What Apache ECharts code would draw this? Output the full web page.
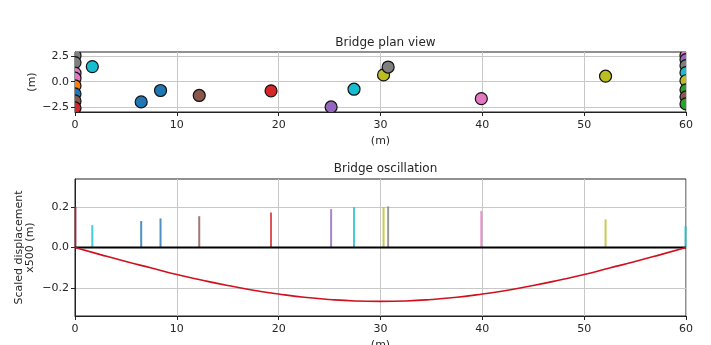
<!DOCTYPE html>
<html><head><meta charset="utf-8">
<script src="https://cdn.jsdelivr.net/npm/echarts@6/dist/echarts.min.js"></script>
<style>html,body{margin:0;padding:0;background:#fff}#c{width:711px;height:345px}</style>
</head><body><div id="c"></div>
<script>
// ---- data ----
var xTicks = [0, 10, 20, 30, 40, 50, 60];
var planYTicks = [-2.5, 0, 2.5];
var oscYTicks = [-0.2, 0, 0.2];
// interior sensors / vehicles: position along span, lateral offset, colour
var ptX = [1.7, 6.5, 8.4, 12.2, 19.25, 25.15, 27.4, 30.3, 30.75, 39.9, 52.1];
var ptY = [1.5, -2.0, -0.87, -1.36, -0.9, -2.5, -0.74, 0.68, 1.46, -1.68, 0.55];
var ptColor = ['#17becf', '#1f77b4', '#1f77b4', '#8c564b', '#d62728', '#9467bd', '#17becf', '#bcbd22', '#7f7f7f', '#e377c2', '#bcbd22'];
// points parked at the supports
var leftY = [2.6, 1.9, 0.85, 0.35, -0.4, -1.2, -1.9, -2.6];
var leftColor = ['#7f7f7f', '#7f7f7f', '#e377c2', '#e377c2', '#ff7f0e', '#1f77b4', '#8c564b', '#d62728'];
var rightY = [2.6, 2.2, 1.6, 0.9, 0.1, -0.8, -1.5, -2.2];
var rightColor = ['#e377c2', '#9467bd', '#7f7f7f', '#17becf', '#bcbd22', '#2ca02c', '#8c564b', '#2ca02c'];
// oscillation stems
var stemX = [0, 1.7, 6.5, 8.4, 12.2, 19.25, 25.15, 27.4, 30.3, 30.75, 39.9, 52.1, 60];
var stemH = [0.2, 0.11, 0.13, 0.143, 0.154, 0.172, 0.189, 0.198, 0.198, 0.202, 0.18, 0.138, 0.105];
var stemColor = ['#a03040', '#17becf', '#1f77b4', '#1f77b4', '#8c564b', '#d62728', '#9467bd', '#17becf', '#bcbd22', '#7f7f7f', '#e377c2', '#bcbd22', '#17becf'];
// deflection curve
var defX = [0, 2.5, 5, 7.5, 10, 12.5, 15, 17.5, 20, 22.5, 25, 27.5, 30, 32.5, 35, 37.5, 40, 42.5, 45, 47.5, 50, 52.5, 55, 57.5, 60];
var defY = [0, -0.035, -0.069, -0.101, -0.133, -0.161, -0.187, -0.21, -0.229, -0.245, -0.256, -0.263, -0.265, -0.263, -0.256, -0.245, -0.229, -0.21, -0.187, -0.161, -0.133, -0.101, -0.069, -0.035, 0];

// ---- chart ----
var font = 'DejaVu Sans';
var txt = '#262626';
var chart = echarts.init(document.getElementById('c'));

var pts = [];
for (var i = 0; i < leftY.length; i++) pts.push([0, leftY[i], leftColor[i]]);
for (var j = 0; j < rightY.length; j++) pts.push([60, rightY[j], rightColor[j]]);
for (var k = 0; k < ptX.length; k++) pts.push([ptX[k], ptY[k], ptColor[k]]);
var ptCols = pts.map(function (p) { return p[2]; });
var ptData = pts.map(function (p, idx) { return [p[0], p[1], idx]; });

var stems = stemX.map(function (x, i) { return [x, stemH[i], i]; });
var defl = defX.map(function (x, i) { return [x, defY[i]]; });

function xAxis(gi, margin, gap) {
  return {
    type: 'value', gridIndex: gi, min: 0, max: 60, interval: 10,
    name: '(m)', nameLocation: 'middle', nameGap: gap, nameMoveOverlap: false,
    nameTextStyle: {fontFamily: font, fontSize: 11, color: txt},
    axisLine: {show: true, onZero: false, lineStyle: {color: '#222', width: 1}},
    axisTick: {show: true, length: 4, lineStyle: {color: '#222'}},
    axisLabel: {fontFamily: font, fontSize: 11, color: txt, margin: margin},
    splitLine: {show: true, lineStyle: {color: '#c8c8c8', width: 1}}
  };
}
function yAxis(gi, min, max, ticks, name, gap) {
  return {
    type: 'value', gridIndex: gi, min: min, max: max,
    name: name, nameLocation: 'middle', nameGap: gap, nameRotate: 90, nameMoveOverlap: false,
    nameTextStyle: {fontFamily: font, fontSize: 11, color: txt, lineHeight: 11,
      verticalAlign: 'middle', align: 'center'},
    axisLine: {show: true, lineStyle: {color: '#222', width: 1}},
    axisTick: {show: true, length: 4, customValues: ticks, lineStyle: {color: '#222'}},
    axisLabel: {fontFamily: font, fontSize: 11, color: txt, margin: 6, customValues: ticks,
      formatter: function (v) { var s = v.toFixed(1); return s.replace('-', '\u2212'); }},
    splitLine: {show: true, lineStyle: {color: '#c8c8c8', width: 1}}
  };
}

chart.setOption({
  animation: false,
  backgroundColor: '#fff',
  title: [
    {text: 'Bridge plan view', left: 380.5, top: 32, textAlign: 'center',
      textStyle: {fontFamily: font, fontSize: 12, fontWeight: 'normal', color: txt}},
    {text: 'Bridge oscillation', left: 380.5, top: 158, textAlign: 'center',
      textStyle: {fontFamily: font, fontSize: 12, fontWeight: 'normal', color: txt}}
  ],
  grid: [
    {left: 75, right: 25, top: 52, height: 60, show: true, borderColor: '#222', borderWidth: 1,
      backgroundColor: 'transparent', outerBoundsMode: 'none', containLabel: false},
    {left: 75, right: 25, top: 179, height: 137, show: true, borderColor: '#222', borderWidth: 1,
      backgroundColor: 'transparent', outerBoundsMode: 'none', containLabel: false}
  ],
  xAxis: [xAxis(0, 8, 24), xAxis(1, 8, 24)],
  yAxis: [
    yAxis(0, -3, 2.95, planYTicks, '(m)', 43),
    yAxis(1, -0.337, 0.337, oscYTicks, 'Scaled displacement\nx500 (m)', 50)
  ],
  series: [
    {type: 'custom', xAxisIndex: 0, yAxisIndex: 0, clip: true, data: ptData, z: 5,
      renderItem: function (params, api) {
        var c = api.coord([api.value(0), api.value(1)]);
        return {type: 'circle', shape: {cx: c[0], cy: c[1], r: 6},
          style: {fill: ptCols[api.value(2)], stroke: '#111', lineWidth: 1.2}};
      }},
    {type: 'custom', xAxisIndex: 1, yAxisIndex: 1, clip: false, data: stems, z: 3,
      renderItem: function (params, api) {
        var x = api.value(0), h = api.value(1), i = api.value(2);
        var p0 = api.coord([x, 0]), p1 = api.coord([x, h]);
        if (x >= 60) { p0[0] -= 0.5; p1[0] -= 0.5; }
        if (x <= 0) { p0[0] += 0.5; p1[0] += 0.5; }
        return {type: 'line', shape: {x1: p0[0], y1: p0[1], x2: p1[0], y2: p1[1]},
          style: {stroke: stemColor[i], lineWidth: 2, opacity: 0.8}};
      }},
    {type: 'line', xAxisIndex: 1, yAxisIndex: 1, data: [[0, 0], [60, 0]], symbol: 'none',
      lineStyle: {color: '#000', width: 1.8}, z: 4},
    {type: 'line', xAxisIndex: 1, yAxisIndex: 1, data: defl, symbol: 'none', smooth: true,
      lineStyle: {color: '#d0101e', width: 1.6}, z: 6}
  ]
});
</script></body></html>
